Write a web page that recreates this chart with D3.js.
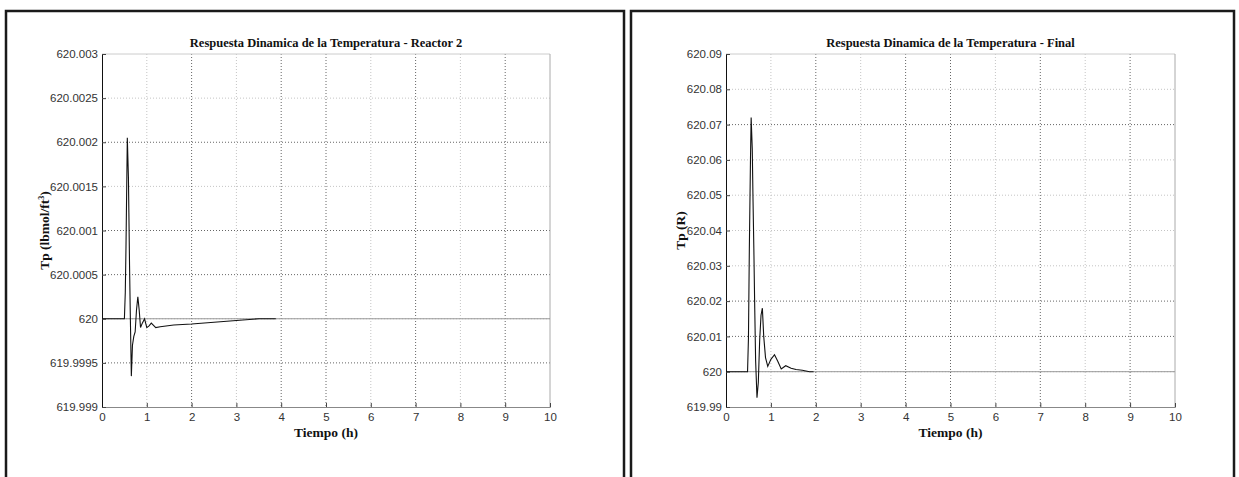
<!DOCTYPE html>
<html>
<head>
<meta charset="utf-8">
<script src="https://cdn.jsdelivr.net/npm/d3@7/dist/d3.min.js"></script>
<style>
  html, body { margin: 0; padding: 0; background: #fff; }
  svg { display: block; }
</style>
</head>
<body>
<svg id="chart" width="1239" height="477"></svg>
<script>
// ---------- data ----------
const xTicks = [0, 1, 2, 3, 4, 5, 6, 7, 8, 9, 10];

// Panel 1: Reactor 2
const r2Title = "Respuesta Dinamica de la Temperatura - Reactor 2";
const r2YTicks = [619.999, 619.9995, 620, 620.0005, 620.001, 620.0015, 620.002, 620.0025, 620.003];
const r2YLabels = ["619.999", "619.9995", "620", "620.0005", "620.001", "620.0015", "620.002", "620.0025", "620.003"];
const r2Time = [0, 0.5, 0.52, 0.535, 0.565, 0.59, 0.6, 0.615, 0.63, 0.655, 0.68, 0.71, 0.74, 0.77, 0.8, 0.83, 0.86, 0.9, 0.95, 1.0, 1.05, 1.1, 1.2, 1.3, 1.6, 2.0, 2.5, 3.0, 3.5, 3.88];
const r2Temp = [620, 620, 620.0003, 620.0008, 620.00205, 620.0016, 620.0012, 620.0006, 620.0001, 619.99935, 619.9997, 619.9998, 619.99985, 620.0001, 620.00025, 620.0001, 619.9999, 619.99995, 620.0, 619.9999, 619.99992, 619.99995, 619.9999, 619.99991, 619.99993, 619.99994, 619.99996, 619.99998, 620.0, 620.0];

// Panel 2: Final
const fTitle = "Respuesta Dinamica de la Temperatura - Final";
const fYTicks = [619.99, 620, 620.01, 620.02, 620.03, 620.04, 620.05, 620.06, 620.07, 620.08, 620.09];
const fYLabels = ["619.99", "620", "620.01", "620.02", "620.03", "620.04", "620.05", "620.06", "620.07", "620.08", "620.09"];
const fTime = [0, 0.48, 0.5, 0.52, 0.545, 0.56, 0.585, 0.6, 0.62, 0.64, 0.66, 0.69, 0.72, 0.75, 0.78, 0.81, 0.84, 0.88, 0.93, 1.0, 1.08, 1.15, 1.23, 1.33, 1.45, 1.56, 1.7, 1.86, 1.95];
const fTemp = [620, 620, 620.0095, 620.035, 620.06, 620.072, 620.063, 620.05, 620.035, 620.018, 620.003, 619.9926, 619.997, 620.009, 620.016, 620.018, 620.01, 620.004, 620.0015, 620.0035, 620.0048, 620.003, 620.0008, 620.0017, 620.001, 620.0006, 620.0004, 620.0, 620.0];

const setpoint = 620;

// ---------- drawing ----------
const svg = d3.select("#chart");

// panel frames
svg.append("rect").attr("x", 6).attr("y", 11).attr("width", 618).attr("height", 480)
  .attr("fill", "none").attr("stroke", "#1a1a1a").attr("stroke-width", 2.5);
svg.append("rect").attr("x", 631).attr("y", 11).attr("width", 603).attr("height", 480)
  .attr("fill", "none").attr("stroke", "#1a1a1a").attr("stroke-width", 2.5);

function drawPanel(cfg) {
  const g = svg.append("g");
  const x = d3.scaleLinear().domain([0, 10]).range([cfg.left, cfg.right]);
  const y = d3.scaleLinear().domain([cfg.yTicks[0], cfg.yTicks[cfg.yTicks.length - 1]]).range([cfg.bottom, cfg.top]);

  // grid
  const darkX = [2, 4, 5, 7, 9];
  g.append("g").selectAll("line").data(xTicks.slice(1, -1)).join("line")
    .attr("x1", d => x(d)).attr("x2", d => x(d))
    .attr("y1", cfg.top).attr("y2", cfg.bottom)
    .attr("stroke", d => darkX.includes(d) ? "#666" : "#c4c4c4")
    .attr("stroke-width", 1)
    .attr("stroke-dasharray", "1,2");
  g.append("g").selectAll("line").data(cfg.yTicks.slice(1, -1)).join("line")
    .attr("x1", cfg.left).attr("x2", cfg.right)
    .attr("y1", d => y(d)).attr("y2", d => y(d))
    .attr("stroke", (d, i) => cfg.darkY.includes(i + 1) ? "#666" : "#c4c4c4")
    .attr("stroke-width", 1)
    .attr("stroke-dasharray", "1,2");

  // box top/right
  g.append("line").attr("x1", cfg.left).attr("x2", cfg.right).attr("y1", cfg.top).attr("y2", cfg.top)
    .attr("stroke", "#ccc");
  g.append("line").attr("x1", cfg.right).attr("x2", cfg.right).attr("y1", cfg.top).attr("y2", cfg.bottom)
    .attr("stroke", "#aaa");

  // setpoint reference line
  g.append("line")
    .attr("x1", x(0)).attr("x2", x(10))
    .attr("y1", y(setpoint)).attr("y2", y(setpoint))
    .attr("stroke", "#999").attr("stroke-width", 1);

  // axes
  const xAxis = d3.axisBottom(x).tickValues(xTicks).tickFormat(d3.format("d")).tickSize(-4).tickPadding(6);
  const xg = g.append("g").attr("transform", `translate(0,${cfg.bottom})`).call(xAxis);
  xg.select(".domain").attr("stroke", "#888");
  xg.selectAll(".tick line").attr("stroke", "#444");
  xg.selectAll("text").attr("font-family", "Liberation Sans, Arial, sans-serif")
    .attr("font-size", 11.5).attr("fill", "#333");

  const yAxis = d3.axisLeft(y).tickValues(cfg.yTicks)
    .tickFormat((d, i) => cfg.yLabels[i]).tickSize(-4).tickPadding(4);
  const yg = g.append("g").attr("transform", `translate(${cfg.left},0)`).call(yAxis);
  yg.select(".domain").attr("stroke", "#111");
  yg.selectAll(".tick line").attr("stroke", "#444");
  yg.selectAll("text").attr("font-family", "Liberation Sans, Arial, sans-serif")
    .attr("font-size", 11.5).attr("fill", "#333");

  // data line
  const pts = cfg.time.map((t, i) => [t, cfg.temp[i]]);
  g.append("path").datum(pts)
    .attr("fill", "none").attr("stroke", "#111").attr("stroke-width", 1.1)
    .attr("d", d3.line().x(d => x(d[0])).y(d => y(d[1])));

  // title
  g.append("text").attr("x", (cfg.left + cfg.right) / 2).attr("y", cfg.top - 7)
    .attr("text-anchor", "middle")
    .attr("font-family", "Liberation Serif, Times New Roman, serif")
    .attr("font-weight", "bold").attr("font-size", 12.5).attr("fill", "#111")
    .text(cfg.title);

  // x label
  g.append("text").attr("x", (cfg.left + cfg.right) / 2).attr("y", cfg.bottom + 30)
    .attr("text-anchor", "middle")
    .attr("font-family", "Liberation Serif, Times New Roman, serif")
    .attr("font-weight", "bold").attr("font-size", 13.5).attr("fill", "#111")
    .text("Tiempo (h)");

  // y label
  const yl = g.append("text")
    .attr("transform", `translate(${cfg.yLabelX},${(cfg.top + cfg.bottom) / 2}) rotate(-90)`)
    .attr("text-anchor", "middle")
    .attr("font-family", "Liberation Serif, Times New Roman, serif")
    .attr("font-weight", "bold").attr("font-size", 13.5).attr("fill", "#111");
  yl.append("tspan").text(cfg.yLabel);
  if (cfg.ySup) {
    yl.append("tspan").attr("font-size", 8).attr("dy", -5).text(cfg.ySup);
    yl.append("tspan").attr("dy", 5).text(")");
  }
}

drawPanel({
  left: 102, right: 550, top: 54, bottom: 407,
  yTicks: r2YTicks, yLabels: r2YLabels, darkY: [1, 3, 4, 6],
  time: r2Time, temp: r2Temp, title: r2Title,
  yLabel: "Tp (lbmol/ft", ySup: "3", yLabelX: 49
});

drawPanel({
  left: 726, right: 1175, top: 54, bottom: 407,
  yTicks: fYTicks, yLabels: fYLabels, darkY: [2, 3, 8],
  time: fTime, temp: fTemp, title: fTitle,
  yLabel: "Tp (R)", ySup: null, yLabelX: 685
});
</script>
</body>
</html>
